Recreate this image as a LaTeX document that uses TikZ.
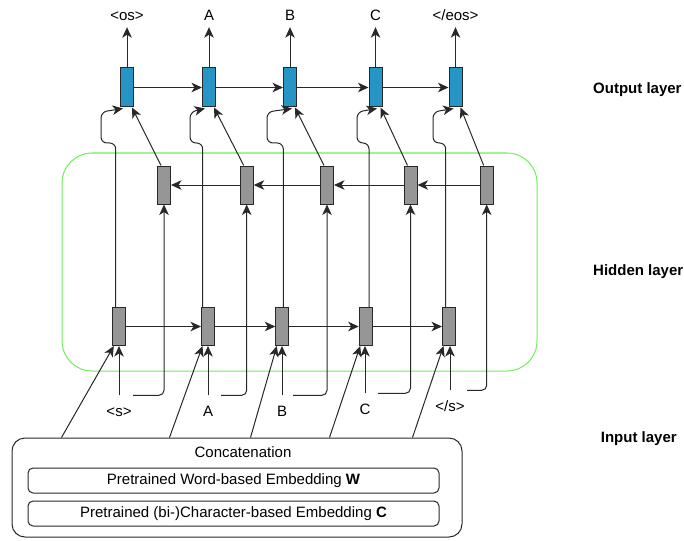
\documentclass[tikz,border=0pt]{standalone}
\usepackage{fontspec}
\setmainfont{Liberation Sans}
\usetikzlibrary{arrows.meta,calc}
\definecolor{outblue}{RGB}{38,148,196}
\definecolor{hidgray}{RGB}{150,150,150}
\definecolor{lineclr}{RGB}{40,40,40}
\definecolor{grn}{RGB}{110,240,90}
\begin{document}
\begin{tikzpicture}[x=1pt,y=-1pt, font=\fontsize{15}{18}\selectfont,
  obox/.style={draw=lineclr, line width=1pt, fill=outblue, minimum width=13pt, minimum height=39pt, inner sep=0pt},
  hbox/.style={draw=lineclr, line width=1pt, fill=hidgray, minimum width=13pt, minimum height=38pt, inner sep=0pt},
  conn/.style={draw=lineclr, line width=1pt, -{Stealth[length=10.5pt,width=9.5pt,inset=3pt]}},
  toplab/.style={anchor=base, inner xsep=1pt, inner ysep=6.5pt, text height=10.5pt, text depth=0pt},
  botlab/.style={anchor=base, inner xsep=1pt, inner ysep=10pt, text height=10.5pt, text depth=0pt},
  layerlab/.style={anchor=base west, inner sep=0pt, font=\fontsize{15}{18}\selectfont\bfseries},
  embbox/.style={draw=lineclr, line width=1pt, rounded corners=5pt, minimum width=411pt, minimum height=25pt, inner sep=0pt}
]
\useasboundingbox (0,0) rectangle (684,540);
\fill[white] (0,0) rectangle (684,540);

% hidden layer frame
\node[draw=grn, line width=1pt, rounded corners=30pt, minimum width=475pt, minimum height=218pt] (hid) at (299.5,262) {};

% concatenation block
\node[draw=lineclr, line width=1pt, rounded corners=13pt, minimum width=450pt, minimum height=99pt] (cat) at (237,487.5) {};
\node[anchor=base, inner sep=0pt] (cattext) at (243,457) {Concatenation};
\node[embbox] (embw) at (233.5,480.5) {Pretrained Word-based Embedding \textbf{W}};
\node[embbox] (embc) at (233.5,513.5) {Pretrained (bi-)Character-based Embedding \textbf{C}};

% cells
\foreach \i/\x in {1/127,2/209,3/290,4/375.5,5/455.5}
  \node[obox] (ob\i) at (\x,87.5) {};
\foreach \i/\x in {1/164,2/246.7,3/327,4/410.5,5/486.7}
  \node[hbox] (hb\i) at (\x,185) {};
\foreach \i/\x in {1/119.3,2/208,3/282.3,4/365.7,5/449}
  \node[hbox] (hf\i) at (\x,326.5) {};

% output labels
\node[toplab] (lo1) at (127,20.5) {<os>};
\node[toplab] (lo2) at (209,20.5) {A};
\node[toplab] (lo3) at (290,20.5) {B};
\node[toplab] (lo4) at (375.5,20.5) {C};
\node[toplab] (lo5) at (455.5,20.5) {</eos>};

% input labels
\node[botlab] (li1) at (119,416) {<s>};
\node[botlab] (li2) at (208,416) {A};
\node[botlab] (li3) at (282,416) {B};
\node[botlab] (li4) at (365,414) {C};
\node[botlab] (li5) at (450,411) {</s>};

% layer labels
\node[layerlab] (lout) at (593,94) {Output layer};
\node[layerlab] (lhid) at (593,275) {Hidden layer};
\node[layerlab] (linp) at (600.7,442) {Input layer};

% connectors
\foreach \i in {1,...,5}
  \draw[conn] (ob\i.north) -- (lo\i.south);
\foreach \i/\j in {1/2,2/3,3/4,4/5} {
  \draw[conn] (ob\i.east) -- (ob\j.west);
  \draw[conn] (hb\j.west) -- (hb\i.east);
  \draw[conn] (hf\i.east) -- (hf\j.west);
}
\foreach \i in {1,...,5}
  \draw[conn] ($(hb\i.north)+(-3,0)$) -- ($(ob\i.south east)+(-2,0)$);
\foreach \i/\dx/\lx/\tx in {1/-3.6/101/-4, 2/-5.3/190/-4, 3/1/267/2, 4/3.3/357/1.5, 5/-3.3/433/-2}
  \draw[conn, rounded corners=6pt] ($(hf\i.north)+(\dx,0)$) |- (\lx,143) -- (\lx,112) -- ($(ob\i.south)+(\tx,1)$);
\foreach \i in {1,...,5}
  \draw[conn] (li\i.north) -- (li\i.north |- hf\i.south);
\foreach \i/\off in {1/14,2/13,3/11,4/13,5/17}
  \draw[conn, rounded corners=5pt] ($(li\i.north)+(\off,0)$) -| (hb\i.south);
\foreach \i/\off in {1/50,2/158,3/239,4/318,5/401}
  \draw[conn] ($(cat.north west)+(\off,0)$) -- ($(hf\i.south west)+(1.5,0)$);
\end{tikzpicture}
\end{document}
